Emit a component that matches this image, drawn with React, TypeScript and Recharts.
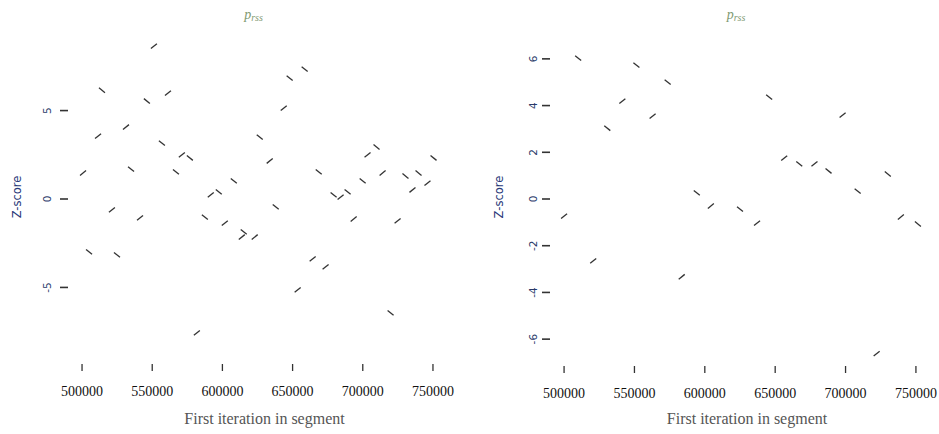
import { ScatterChart, Scatter, XAxis, YAxis } from "recharts"

// iterations at which each segment starts, Z-score of each segment
const X_TICKS = [500000, 550000, 600000, 650000, 700000, 750000]

const LEFT_ITER = [
  500700, 505000, 511400, 514200, 521300, 524900, 531300, 534900, 541300, 546200,
  551200, 556900, 561200, 566900, 571100, 576800, 581800, 587500, 591700, 597400,
  601700, 608100, 613800, 615200, 623000, 626600, 633700, 638000, 643700, 647900,
  653600, 658600, 664300, 668600, 673500, 679200, 684200, 689200, 693500, 699900,
  703400, 709800, 714100, 719800, 724800, 730400, 735400, 739700, 746100, 750400,
]
const LEFT_Z = [
  1.47, -2.99, 3.56, 6.15, -0.62, -3.16, 4.07, 1.69, -1.07, 5.54,
  8.64, 3.16, 5.99, 1.53, 2.49, 2.32, -7.57, -1.02, 0.23, 0.4,
  -1.36, 1.02, -2.15, -1.86, -2.15, 3.5, 2.15, -0.45, 5.14, 6.84,
  -5.14, 7.34, -3.39, 1.53, -3.84, 0.23, 0.11, 0.4, -1.13, 1.02,
  2.49, 2.94, 1.47, -6.44, -1.24, 1.3, 0.51, 1.47, 0.9, 2.32,
]
const LEFT_Y_TICKS = [-5, 0, 5]

const RIGHT_ITER = [
  500000, 510000, 520700, 530700, 541400, 551400, 562900, 573600, 583600, 594300,
  604300, 625000, 637100, 645700, 656400, 667100, 677900, 687900, 697900, 708600,
  722100, 730000, 739300, 751400,
]
const RIGHT_Z = [
  -0.73, 6.03, -2.65, 3.03, 4.19, 5.73, 3.55, 5.0, -3.33, 0.26,
  -0.3, -0.43, -1.03, 4.36, 1.75, 1.5, 1.5, 1.2, 3.59, 0.34,
  -6.62, 1.07, -0.77, -1.07,
]
const RIGHT_Y_TICKS = [-6, -4, -2, 0, 2, 4, 6]

const INK = "#333"

// short stroke where each point sits
// eslint-disable-next-line @typescript-eslint/no-explicit-any
function Mark(props: any) {
  const { cx, cy, payload } = props
  if (cx == null || cy == null) return null
  const d = payload.i % 2 === 0 ? 1 : -1
  return <line x1={cx - 3} y1={cy + 2.4 * d} x2={cx + 3} y2={cy - 2.4 * d} stroke={INK} strokeWidth={1.3} />
}

// eslint-disable-next-line @typescript-eslint/no-explicit-any
function YTick({ x, y, payload }: any) {
  return (
    <text
      x={x}
      y={y}
      transform={`rotate(-90 ${x} ${y})`}
      textAnchor="middle"
      dominantBaseline="central"
      fontSize={10.5}
      fontFamily="DejaVu Sans"
      fill="#2a3a6a"
    >
      {payload.value}
    </text>
  )
}

interface PanelProps {
  iter: number[]
  z: number[]
  yLim: number
  yTicks: number[]
  left: number
  width: number
  top: number
  right: number
  bottom: number
  axisWidth: number
  labelGap: number
}

function Panel({ iter, z, yLim, yTicks, left, width, top, right, bottom, axisWidth, labelGap }: PanelProps) {
  const data = iter.map((x, i) => ({ x, z: z[i], i }))
  const plotW = width - axisWidth - right
  const cx = axisWidth + plotW / 2
  const zx = axisWidth - 51
  return (
    <div style={{ position: "absolute", left, top: 0 }}>
      <ScatterChart width={width} height={434} margin={{ top, right, bottom, left: 0 }}>
        <XAxis
          type="number"
          dataKey="x"
          domain={[490000, 760000]}
          ticks={X_TICKS}
          interval={0}
          height={40}
          axisLine={false}
          tickLine={{ stroke: INK, strokeWidth: 1.3 }}
          tickSize={7}
          tickMargin={15}
          tick={{ fontSize: 14, fontFamily: "Liberation Serif", fill: "#111" }}
        />
        <YAxis
          type="number"
          dataKey="z"
          domain={[-yLim, yLim]}
          ticks={yTicks}
          interval={0}
          width={axisWidth}
          axisLine={false}
          tickLine={{ stroke: INK, strokeWidth: 1.6 }}
          tickSize={8}
          tickMargin={labelGap}
          tick={<YTick />}
        />
        <Scatter data={data} shape={<Mark />} isAnimationActive={false} />
        <text x={cx - 4} y={19} textAnchor="middle" fontFamily="Liberation Serif" fontSize={14} fill="#7f9a72">
          <tspan fontStyle="italic">p</tspan>
          <tspan fontSize={10} dy={2} fontStyle="italic">rss</tspan>
        </text>
        <text x={cx + 7} y={424} textAnchor="middle" fontFamily="Liberation Serif" fontSize={16} fill="#555">
          First iteration in segment
        </text>
        <text
          x={zx}
          y={197}
          transform={`rotate(-90 ${zx} 197)`}
          textAnchor="middle"
          dominantBaseline="central"
          fontFamily="DejaVu Sans"
          fontSize={11.5}
          fill="#2a3a7a"
        >
          Z-score
        </text>
      </ScatterChart>
    </div>
  )
}

export default function App() {
  return (
    <div style={{ position: "absolute", left: 0, top: 0, width: 939, height: 434, background: "#fff" }}>
      <Panel iter={LEFT_ITER} z={LEFT_Z} yLim={9.33} yTicks={LEFT_Y_TICKS}
        left={0} width={470} top={34} right={23} bottom={30} axisWidth={68} labelGap={13} />
      <Panel iter={RIGHT_ITER} z={RIGHT_Z} yLim={7.15} yTicks={RIGHT_Y_TICKS}
        left={470} width={469} top={32} right={9} bottom={28} axisWidth={80} labelGap={9} />
    </div>
  )
}
